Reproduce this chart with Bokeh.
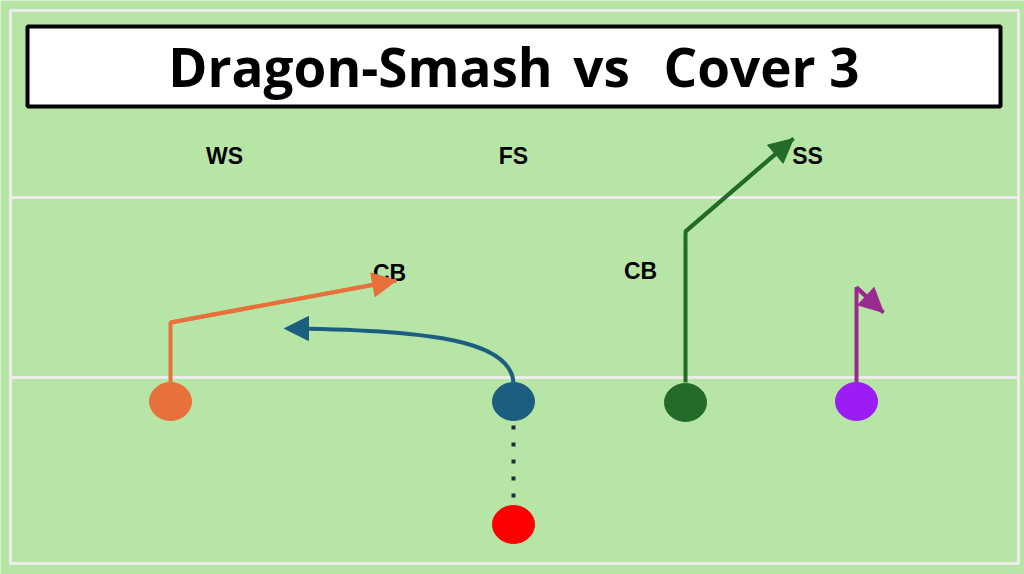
from bokeh.plotting import figure
from bokeh.models import Range1d, Arrow, NormalHead
from bokeh.core.properties import value
from bokeh.embed import file_html
from bokeh.resources import INLINE

# ---- data (reference pixel coordinates, y grows downward) ----
title_words = ["Dragon-Smash", "vs", "Cover 3"]
title_word_x = [360, 601, 761]
title_mid_y = 65.5

defender_labels = ["WS", "FS", "SS", "CB", "CB"]
defender_x = [224, 513, 807, 389, 640]
defender_y = [155, 155, 155, 272, 270]

player_x = [170, 513, 685, 856, 513]
player_y = [401, 401, 402, 401, 524]
player_colors = ["#e8703a", "#1b5e80", "#246b2a", "#9b1cf5", "#ff0000"]

orange_route_x = [170, 170, 396]
orange_route_y = [382, 322, 280]
green_route_x = [685, 685, 793]
green_route_y = [382, 231, 138]
purple_route_x = [856, 856, 883]
purple_route_y = [382, 287, 312]
blue_curve = dict(x0=513, y0=382, cx0=510, cy0=340, cx1=430, cy1=330, x1=284, y1=328)
motion_x = [513, 513]
motion_y = [425, 505]

field_lines_y = [197, 377]
field_left, field_right, field_top, field_bottom = 10, 1018, 10, 563
title_box = dict(left=27, right=1000, top=26, bottom=106)

FIELD = "#b7e5a5"
CHALK = "#ececec"

p = figure(width=1024, height=574, output_backend="svg", toolbar_location=None,
           x_range=Range1d(0, 1024), y_range=Range1d(574, 0),
           min_border=0, background_fill_color=FIELD, border_fill_color=FIELD,
           outline_line_color=None)
p.axis.visible = False
p.grid.visible = False

# field border and yard lines
p.quad(left=[field_left], right=[field_right], top=[field_top], bottom=[field_bottom],
       fill_color=None, line_color=CHALK, line_width=3)
p.segment(x0=[field_left] * 2, x1=[field_right] * 2, y0=field_lines_y, y1=field_lines_y,
          line_color=CHALK, line_width=3)

# title box
p.quad(left=[title_box["left"]], right=[title_box["right"]], top=[title_box["top"]],
       bottom=[title_box["bottom"]], fill_color="white", line_color="black", line_width=4)
p.text(x=title_word_x, y=[title_mid_y] * len(title_words),
       text=title_words, text_align="center", text_baseline="middle",
       text_font=value("Open Sans"), text_font_style="bold", text_font_size="53px",
       text_color="black")

# defender labels
p.text(x=defender_x, y=defender_y, text=defender_labels, text_align="center",
       text_baseline="middle", text_font=value("Liberation Sans"), text_font_style="bold",
       text_font_size="23px", text_color="black")

# routes
def route(xs, ys, color):
    p.line(xs, ys, line_color=color, line_width=4)
    p.add_layout(Arrow(end=NormalHead(size=24, fill_color=color, line_color=color),
                       x_start=xs[-2], y_start=ys[-2], x_end=xs[-1], y_end=ys[-1],
                       line_color=color, line_width=4))

route(orange_route_x, orange_route_y, "#e8703a")
route(green_route_x, green_route_y, "#246b2a")
route(purple_route_x, purple_route_y, "#9a2a8f")

bc = blue_curve
p.bezier(x0=[bc["x0"]], y0=[bc["y0"]], x1=[bc["x1"] + 10], y1=[bc["y1"]],
         cx0=[bc["cx0"]], cy0=[bc["cy0"]], cx1=[bc["cx1"]], cy1=[bc["cy1"]],
         line_color="#1b5e80", line_width=4)
p.add_layout(Arrow(end=NormalHead(size=24, fill_color="#1b5e80", line_color="#1b5e80"),
                   x_start=bc["x1"] + 20, y_start=bc["y1"], x_end=bc["x1"], y_end=bc["y1"],
                   line_color="#1b5e80", line_width=4))

# motion (dotted)
p.line(motion_x, motion_y, line_color="#1f2a44", line_width=4, line_dash="4 13")

# players
p.ellipse(x=player_x, y=player_y, width=42, height=38, fill_color=player_colors,
          line_color=player_colors)

open("out.html", "w").write(file_html(p, INLINE))
